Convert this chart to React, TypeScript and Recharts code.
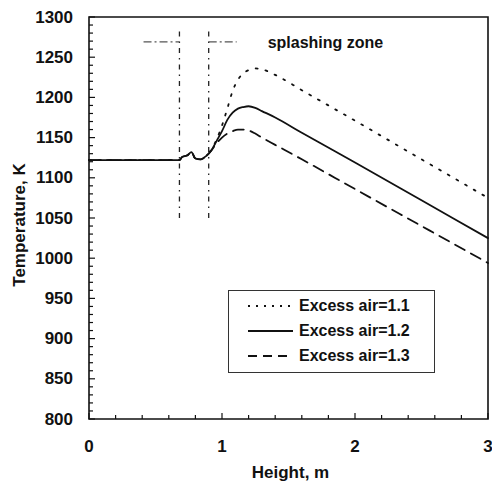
import {
  LineChart,
  Line,
  XAxis,
  YAxis,
  ReferenceArea,
  ReferenceLine,
  Legend,
} from 'recharts'

// heights along the bed, m
const heights = [
  0, 0.68, 0.7, 0.74, 0.77, 0.8, 0.84, 0.88, 0.92, 0.96, 1.0, 1.04, 1.08, 1.12,
  1.16, 1.2, 1.25, 1.3, 1.4, 1.6, 2.0, 2.5, 3.0,
]

// temperature, K, for each excess air ratio
const air11 = [
  1122, 1122, 1126, 1128, 1132, 1124, 1123, 1127, 1135, 1148, 1165, 1186, 1208,
  1222, 1230, 1234, 1236, 1235, 1228, 1209, 1171, 1123, 1075,
]
const air12 = [
  1122, 1122, 1126, 1128, 1132, 1124, 1123, 1127, 1134, 1146, 1158, 1172, 1181,
  1186, 1188, 1189, 1187, 1183, 1175, 1156, 1119, 1072, 1025,
]
const air13 = [
  1122, 1122, 1126, 1128, 1132, 1124, 1123, 1127, 1134, 1143, 1150, 1155, 1158,
  1160, 1160, 1159, 1155, 1150, 1141, 1123, 1086, 1040, 994,
]

const xMajor = [0, 1, 2, 3]
const yMajor = [800, 850, 900, 950, 1000, 1050, 1100, 1150, 1200, 1250, 1300]
const xTicks = Array.from({ length: 16 }, (_, i) => +(i * 0.2).toFixed(1))
const yTicks = Array.from({ length: 51 }, (_, i) => 800 + i * 10)

// splashing zone bounds, m
const zoneStart = 0.68
const zoneEnd = 0.9

const series = [
  { key: 'a11', name: 'Excess air=1.1', values: air11, dash: '2 8', legendDash: '2 6' },
  { key: 'a12', name: 'Excess air=1.2', values: air12, dash: undefined, legendDash: undefined },
  { key: 'a13', name: 'Excess air=1.3', values: air13, dash: '11 7', legendDash: '9 6' },
]

const data = heights.map((h, i) => ({
  h,
  a11: air11[i],
  a12: air12[i],
  a13: air13[i],
}))

const font = "'Liberation Sans', Arial, sans-serif"

function YTick(props: any) {
  const { x, y, payload } = props
  const major = yMajor.includes(payload.value)
  return (
    <g>
      <line x1={x} x2={x + (major ? 6 : 4)} y1={y} y2={y} stroke="#111" strokeWidth={1.2} />
      {major && (
        <text x={x - 16} y={y} textAnchor="end" dominantBaseline="central" fontSize={17} fontWeight="bold" fontFamily={font} fill="#111">
          {payload.value}
        </text>
      )}
    </g>
  )
}

function XTick(props: any) {
  const { x, y, payload } = props
  const major = xMajor.includes(payload.value)
  return (
    <g>
      <line x1={x} x2={x} y1={y} y2={y - (major ? 6 : 4)} stroke="#111" strokeWidth={1.2} />
      {major && (
        <text x={x} y={y + 27} textAnchor="middle" dominantBaseline="central" fontSize={17} fontWeight="bold" fontFamily={font} fill="#111">
          {payload.value}
        </text>
      )}
    </g>
  )
}

function LegendBox(props: any) {
  const { payload = [] } = props
  return (
    <div
      style={{
        border: '1px solid #333',
        background: '#fff',
        padding: '2px 0 4px 18px',
        fontFamily: font,
        fontSize: 16,
        fontWeight: 'bold',
        color: '#111',
      }}
    >
      {payload.map((entry: any, i: number) => {
        const s = series.find((d) => d.name === entry.value) ?? series[i]
        return (
          <div key={s.key} style={{ display: 'flex', alignItems: 'center', height: 25 }}>
            <svg width={52} height={10}>
              <line x1={1} x2={46} y1={5} y2={5} stroke="#111" strokeWidth={1.8} strokeDasharray={s.legendDash} />
            </svg>
            <span>{s.name}</span>
          </div>
        )
      })}
    </div>
  )
}

export default function App() {
  return (
    <div style={{ padding: '8px 0 0 8px', width: 484, height: 473 }}>
      <style>{'body { margin: 0; }'}</style>
      <LineChart
        width={484}
        height={473}
        data={data}
        margin={{ top: 9, right: 4, bottom: 0, left: 0 }}
      >
        <XAxis
          dataKey="h"
          type="number"
          domain={[0, 3]}
          ticks={xTicks}
          interval={0}
          tickSize={0}
          tickMargin={0}
          tickLine={false}
          axisLine={false}
          height={62}
          tick={<XTick />}
          label={(p: any) => {
            const vb = p.viewBox
            return (
              <text x={vb.x + vb.width / 2 + 2} y={vb.y + 53} textAnchor="middle" dominantBaseline="central" fontSize={17} fontWeight="bold" fontFamily={font} fill="#111">
                Height, m
              </text>
            )
          }}
        />
        <YAxis
          type="number"
          domain={[800, 1300]}
          ticks={yTicks}
          interval={0}
          tickSize={0}
          tickMargin={0}
          tickLine={false}
          axisLine={false}
          width={81}
          tick={<YTick />}
          label={(p: any) => {
            const vb = p.viewBox
            const cx = vb.x + 11
            const cy = vb.y + vb.height / 2 + 7
            return (
              <text x={cx} y={cy} transform={`rotate(-90 ${cx} ${cy})`} textAnchor="middle" dominantBaseline="central" fontSize={17} fontWeight="bold" fontFamily={font} fill="#111">
                Temperature, K
              </text>
            )
          }}
        />
        <ReferenceArea x1={0} x2={3} y1={800} y2={1300} fill="none" stroke="#111" strokeWidth={1.6} />
        <ReferenceLine
          segment={[{ x: zoneStart, y: 1050 }, { x: zoneStart, y: 1284 }]}
          stroke="#222"
          strokeWidth={1.3}
          strokeDasharray="5 5 1.5 5"
        />
        <ReferenceLine
          segment={[{ x: zoneEnd, y: 1050 }, { x: zoneEnd, y: 1284 }]}
          stroke="#222"
          strokeWidth={1.3}
          strokeDasharray="5 5 1.5 5"
        />
        <ReferenceLine
          segment={[{ x: 0.41, y: 1269 }, { x: zoneStart, y: 1269 }]}
          stroke="#555"
          strokeWidth={1.2}
          strokeDasharray="8 3 2 3"
        />
        <ReferenceLine
          segment={[{ x: zoneEnd, y: 1269 }, { x: 1.11, y: 1269 }]}
          stroke="#555"
          strokeWidth={1.2}
          strokeDasharray="8 3 2 3"
          label={{
            value: 'splashing zone',
            position: 'right',
            offset: 31,
            fontSize: 16,
            fontWeight: 'bold',
            fontFamily: font,
            fill: '#111',
          }}
        />
        {series.map((s) => (
          <Line
            key={s.key}
            dataKey={s.key}
            name={s.name}
            type="monotone"
            stroke="#111"
            strokeWidth={1.8}
            strokeDasharray={s.dash}
            strokeLinecap="round"
            dot={false}
            activeDot={false}
            isAnimationActive={false}
          />
        ))}
        <Legend
          layout="vertical"
          align="center"
          verticalAlign="middle"
          content={<LegendBox />}
          wrapperStyle={{ left: 220, top: 282, width: 207 }}
        />
      </LineChart>
    </div>
  )
}
